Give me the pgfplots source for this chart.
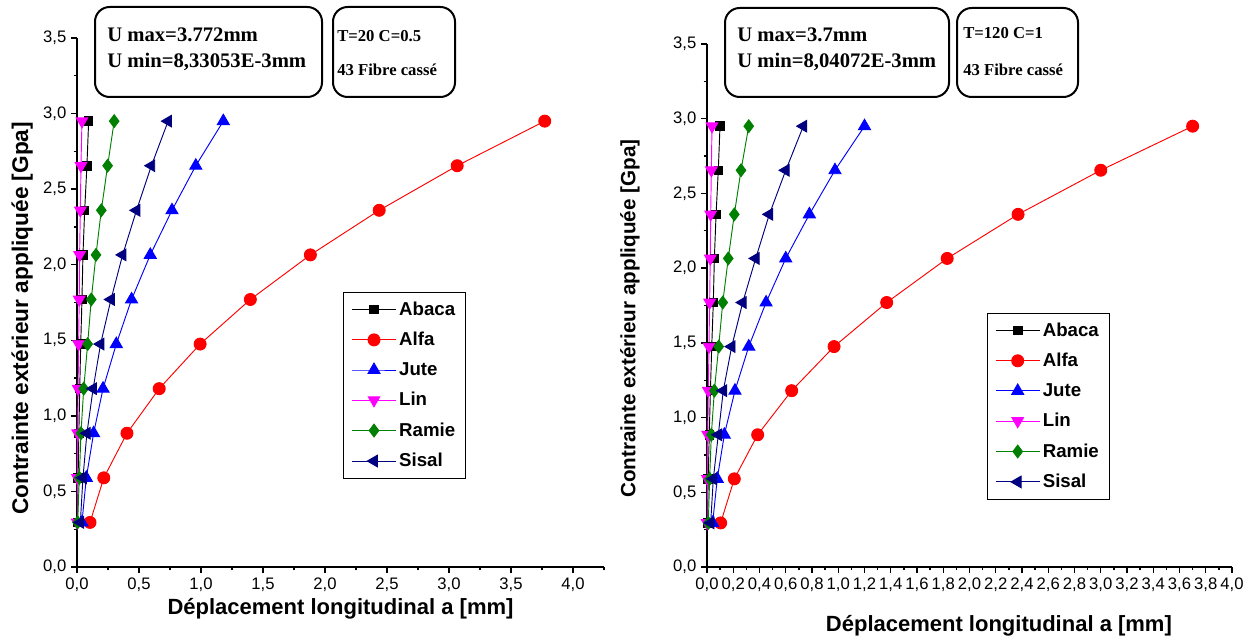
\documentclass[border=0pt]{standalone}
\usepackage{fontspec}
\usepackage{pgfplots}
\pgfplotsset{compat=1.18}
\setmainfont{Liberation Serif}
\newfontfamily\arialfont{Liberation Sans}
\definecolor{ogreen}{RGB}{0,128,0}
\definecolor{onavy}{RGB}{0,0,128}
\definecolor{omag}{RGB}{255,0,255}
\newcommand\tickfont{\arialfont\fontsize{12.5}{14}\selectfont}
\newcommand\labfont{\arialfont\bfseries\fontsize{16.5}{19}\selectfont}
\newcommand\legfont{\arialfont\bfseries\fontsize{14}{15}\selectfont}

\pgfplotsset{
  fibre/.style={
    scale only axis,
    axis x line*=bottom, axis y line*=left,
    axis line style={-, line width=1.2pt},
    tick align=outside,
    major tick length=4.5pt, minor tick length=2.5pt,
    tick style={black, line width=1pt},
    ymin=0, ymax=3.5,
    ytick={0,0.5,...,3.5}, minor ytick={0.25,0.75,...,3.25},
    /pgf/number format/.cd, use comma, fixed, fixed zerofill, precision=1,
    assume math mode=true, /pgfplots/.cd,
    ticklabel style={font=\tickfont},
    xlabel={Déplacement longitudinal a [mm]},
    ylabel={Contrainte extérieur appliquée [Gpa]},
    label style={font=\labfont},
    every axis plot/.append style={line width=0.7pt},
    legend cell align=left,
    legend style={font=\legfont, draw=black, line width=0.6pt, row sep=7.2pt,
      inner xsep=6pt, inner ysep=5pt, anchor=north west},
    legend image code/.code={\draw[mark repeat=2,mark phase=2]
      plot coordinates {(0cm,0cm) (0.58cm,0cm) (1.16cm,0cm)};},
  },
  pabaca/.style={black, mark=square*, mark size=3.2pt},
  palfa/.style={red, mark=*, mark size=4.5pt},
  pjute/.style={blue, mark=triangle*, mark size=5.2pt},
  plin/.style={omag, mark=triangle*, mark size=5pt, mark options={rotate=180}},
  pramie/.style={ogreen, mark=diamond*, mark size=4.8pt},
  psisal/.style={onavy, mark=triangle*, mark size=5pt, mark options={rotate=90}},
}

\begin{document}
\begin{tikzpicture}
\path[use as bounding box] (0,0) rectangle (938.25pt,480pt);

% ---- gauche : T=20 C=0.5
\begin{axis}[fibre,
  at={(57.75pt,54.75pt)}, anchor=south west,
  width=395.25pt, height=396.75pt,
  xmin=0, xmax=4.25,
  xtick={0,0.5,...,4}, minor xtick={0.25,0.75,...,4.25},
  xlabel style={at={(axis description cs:0.5,-0.078)}, anchor=center},
  ylabel style={at={(axis description cs:-0.104,0.47)}, anchor=center,
    font=\arialfont\bfseries\fontsize{17}{19}\selectfont},
  legend style={at={(axis description cs:0.505,0.52)}},
]
\addplot[pabaca] coordinates {(0.004,0.295)(0.009,0.59)(0.015,0.885)(0.022,1.18)(0.03,1.475)(0.04,1.77)(0.048,2.065)(0.062,2.36)(0.08,2.655)(0.094,2.95)};
\addplot[palfa] coordinates {(0.105,0.295)(0.216,0.59)(0.403,0.885)(0.663,1.18)(0.993,1.475)(1.398,1.77)(1.882,2.065)(2.437,2.36)(3.066,2.655)(3.772,2.95)};
\addplot[pjute] coordinates {(0.04,0.295)(0.075,0.59)(0.134,0.885)(0.21,1.18)(0.317,1.475)(0.44,1.77)(0.591,2.065)(0.766,2.36)(0.958,2.655)(1.18,2.95)};
\addplot[plin] coordinates {(0.001,0.295)(0.003,0.59)(0.006,0.885)(0.009,1.18)(0.013,1.475)(0.018,1.77)(0.021,2.065)(0.027,2.36)(0.032,2.655)(0.04,2.95)};
\addplot[pramie] coordinates {(0.005,0.295)(0.019,0.59)(0.032,0.885)(0.054,1.18)(0.086,1.475)(0.115,1.77)(0.153,2.065)(0.196,2.36)(0.247,2.655)(0.30,2.95)};
\addplot[psisal] coordinates {(0.027,0.295)(0.048,0.59)(0.08,0.885)(0.13,1.18)(0.19,1.475)(0.274,1.77)(0.368,2.065)(0.48,2.36)(0.60,2.655)(0.735,2.95)};
\legend{Abaca,Alfa,Jute,Lin,Ramie,Sisal}
\end{axis}

% ---- droite : T=120 C=1
\begin{axis}[fibre,
  at={(530.25pt,54.75pt)}, anchor=south west,
  width=393.75pt, height=392.25pt,
  xmin=0, xmax=4,
  xtick={0,0.2,...,4.01}, minor xtick={0.1,0.3,...,3.9},
  xlabel style={at={(axis description cs:0.556,-0.113)}, anchor=center},
  ylabel style={at={(axis description cs:-0.147,0.475)}, anchor=center,
    font=\arialfont\bfseries\fontsize{15.5}{18}\selectfont},
  legend style={at={(axis description cs:0.533,0.486)}},
]
\addplot[pabaca] coordinates {(0.004,0.295)(0.009,0.59)(0.017,0.885)(0.026,1.18)(0.036,1.475)(0.048,1.77)(0.056,2.065)(0.069,2.36)(0.086,2.655)(0.099,2.95)};
\addplot[palfa] coordinates {(0.104,0.295)(0.208,0.59)(0.386,0.885)(0.645,1.18)(0.968,1.475)(1.369,1.77)(1.83,2.065)(2.37,2.36)(3.0,2.655)(3.70,2.95)};
\addplot[pjute] coordinates {(0.043,0.295)(0.078,0.59)(0.132,0.885)(0.213,1.18)(0.318,1.475)(0.45,1.77)(0.60,2.065)(0.78,2.36)(0.975,2.655)(1.20,2.95)};
\addplot[plin] coordinates {(0.001,0.295)(0.003,0.59)(0.006,0.885)(0.01,1.18)(0.015,1.475)(0.02,1.77)(0.025,2.065)(0.028,2.36)(0.033,2.655)(0.038,2.95)};
\addplot[pramie] coordinates {(0.01,0.295)(0.02,0.59)(0.033,0.885)(0.056,1.18)(0.089,1.475)(0.12,1.77)(0.162,2.065)(0.208,2.36)(0.259,2.655)(0.318,2.95)};
\addplot[psisal] coordinates {(0.028,0.295)(0.048,0.59)(0.086,0.885)(0.124,1.18)(0.188,1.475)(0.272,1.77)(0.371,2.065)(0.475,2.36)(0.60,2.655)(0.734,2.95)};
\legend{Abaca,Alfa,Jute,Lin,Ramie,Sisal}
\end{axis}

% ---- cadres de texte
\begin{scope}[line width=1.5pt, rounded corners=11pt]
  \draw (71.25pt,407.25pt) rectangle (241.5pt,474.75pt);
  \draw (249.75pt,407.25pt) rectangle (341.25pt,474.75pt);
  \draw (543.75pt,407.25pt) rectangle (711.75pt,474pt);
  \draw (717.75pt,407.25pt) rectangle (808.5pt,474pt);
\end{scope}
\begin{scope}[font=\bfseries\fontsize{15.5}{18}\selectfont, anchor=west, inner sep=0pt]
  \node at (80.25pt,453.75pt) {U max=3.772mm};
  \node at (80.25pt,433.5pt) {U min=8,33053E-3mm};
  \node at (552.75pt,453.75pt) {U max=3.7mm};
  \node at (552.75pt,433.5pt) {U min=8,04072E-3mm};
\end{scope}
\begin{scope}[font=\bfseries\fontsize{12.5}{15}\selectfont, anchor=west, inner sep=0pt]
  \node at (252.75pt,453pt) {T=20 C=0.5};
  \node at (252.75pt,428pt) {43 Fibre cassé};
  \node at (722.25pt,455pt) {T=120 C=1};
  \node at (722.25pt,428pt) {43 Fibre cassé};
\end{scope}
\end{tikzpicture}
\end{document}
